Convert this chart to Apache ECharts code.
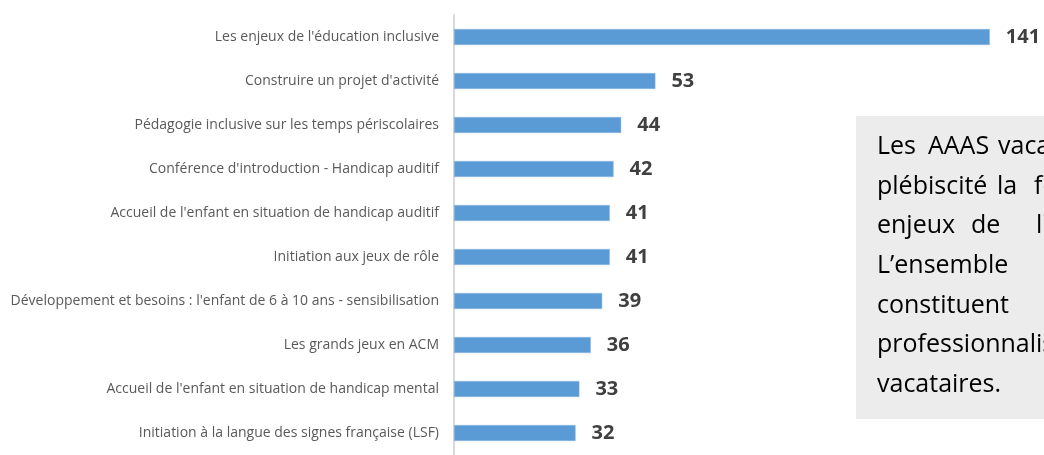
<!DOCTYPE html>
<html>
<head>
<meta charset="utf-8">
<script src="https://cdn.jsdelivr.net/npm/echarts@6/dist/echarts.min.js"></script>
<style>
html,body{margin:0;padding:0;background:#fff;}
#chart{width:1044px;height:455px;}
</style>
</head>
<body>
<div id="chart"></div>
<script>
const categories = [
  "Les enjeux de l'éducation inclusive",
  "Construire un projet d'activité",
  "Pédagogie inclusive sur les temps périscolaires",
  "Conférence d'introduction - Handicap auditif",
  "Accueil de l'enfant en situation de handicap auditif",
  "Initiation aux jeux de rôle",
  "Développement et besoins : l'enfant de 6 à 10 ans - sensibilisation",
  "Les grands jeux en ACM",
  "Accueil de l'enfant en situation de handicap mental",
  "Initiation à la langue des signes française (LSF)"
];
const values = [141, 53, 44, 42, 41, 41, 39, 36, 33, 32];
const noteLines = [
  ["Les", "AAAS", "vacataires"],
  ["plébiscité", "la", "formation"],
  ["enjeux", "de", "l'éducation"],
  ["L’ensemble"],
  ["constituent"],
  ["professionnalisation"],
  ["vacataires."]
];

const chart = echarts.init(document.getElementById('chart'), null, {renderer: 'canvas'});

// note box layout
const boxX = 856, boxY = 116, boxW = 200, boxH = 303;
const lineY0 = 147, lineGap = 39.6;
const wordX = [[877, 928, 998], [877, 997, 1034], [877, 971, 1036], [877], [877], [877], [877]];
const graphics = [{
  type: 'rect', shape: {x: boxX, y: boxY, width: boxW, height: boxH},
  style: {fill: '#ececec'}, z: 10
}];
noteLines.forEach((words, i) => {
  words.forEach((w, j) => {
    graphics.push({
      type: 'text', x: wordX[i][j], y: lineY0 + i * lineGap, z: 11,
      style: {text: w, fill: '#000', font: '25px "Open Sans"', textVerticalAlign: 'middle', textBaseline: 'middle'}
    });
  });
});

chart.setOption({
  animation: false,
  grid: {left: 454, top: 15, width: 570, height: 450, containLabel: false},
  xAxis: {
    type: 'value', min: 0, max: 150, show: false
  },
  yAxis: {
    type: 'category', data: categories, inverse: true,
    axisLine: {show: true, lineStyle: {color: '#d9d9d9', width: 2}},
    axisTick: {show: false},
    axisLabel: {color: '#595959', fontFamily: 'Open Sans', fontSize: 14, margin: 15}
  },
  series: [{
    type: 'bar', data: values, barWidth: 16,
    itemStyle: {color: '#5b9bd5', borderColor: '#8fbbe3', borderWidth: 0.5},
    label: {show: true, position: 'right', distance: 16, color: '#404040',
      fontFamily: 'Open Sans', fontWeight: 'bold', fontSize: 20}
  }],
  graphic: graphics
});
</script>
</body>
</html>
